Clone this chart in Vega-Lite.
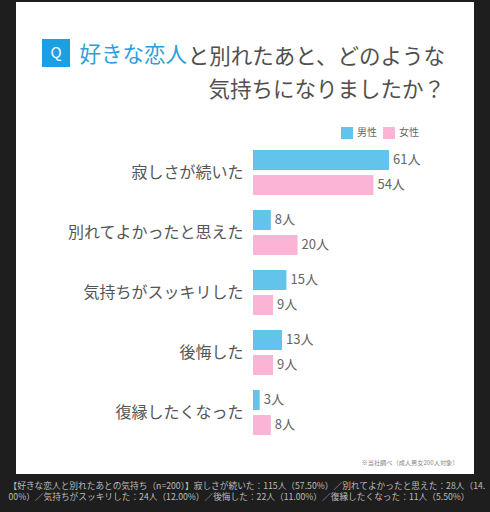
{
  "$schema": "https://vega.github.io/schema/vega-lite/v6.json",
  "width": 458,
  "height": 472,
  "autosize": "none",
  "padding": {"left": 16, "top": 2, "right": 16, "bottom": 38},
  "background": "#1e1e1e",
  "config": {
    "view": {"fill": "#ffffff", "stroke": null},
    "font": "Noto Sans CJK JP"
  },
  "title": {
    "text": ["と別れたあと、どのような", "気持ちになりましたか？"],
    "orient": "top",
    "anchor": "end",
    "frame": "group",
    "dx": -29,
    "offset": -99,
    "fontSize": 21.5,
    "fontWeight": "normal",
    "color": "#505050",
    "lineHeight": 33
  },
  "data": {
    "values": [
      {"category": "寂しさが続いた", "gender": "男性", "count": 61, "label": "61人"},
      {"category": "寂しさが続いた", "gender": "女性", "count": 54, "label": "54人"},
      {"category": "別れてよかったと思えた", "gender": "男性", "count": 8, "label": "8人"},
      {"category": "別れてよかったと思えた", "gender": "女性", "count": 20, "label": "20人"},
      {"category": "気持ちがスッキリした", "gender": "男性", "count": 15, "label": "15人"},
      {"category": "気持ちがスッキリした", "gender": "女性", "count": 9, "label": "9人"},
      {"category": "後悔した", "gender": "男性", "count": 13, "label": "13人"},
      {"category": "後悔した", "gender": "女性", "count": 9, "label": "9人"},
      {"category": "復縁したくなった", "gender": "男性", "count": 3, "label": "3人"},
      {"category": "復縁したくなった", "gender": "女性", "count": 8, "label": "8人"}
    ]
  },
  "encoding": {
    "y": {
      "field": "category",
      "type": "nominal",
      "sort": ["寂しさが続いた", "別れてよかったと思えた", "気持ちがスッキリした", "後悔した", "復縁したくなった"],
      "scale": {"range": [148, 433], "paddingInner": 0.25, "paddingOuter": 0},
      "axis": {
        "orient": "left",
        "offset": -237,
        "domain": false,
        "ticks": false,
        "grid": false,
        "labelPadding": 10,
        "labelFontSize": 16,
        "labelColor": "#555555",
        "labelLimit": 260,
        "title": [
          "【好きな恋人と別れたあとの気持ち（n=200）】寂しさが続いた：115人（57.50%）／別れてよかったと思えた：28人（14.",
          "00%）／気持ちがスッキリした：24人（12.00%）／後悔した：22人（11.00%）／復縁したくなった：11人（5.50%）"
        ],
        "titleAngle": 0,
        "titleAlign": "left",
        "titleBaseline": "top",
        "titleX": -245,
        "titleY": 479,
        "titleFontSize": 8.7,
        "titleFontWeight": "normal",
        "titleColor": "#bbbbbb",
        "titleLineHeight": 11.5,
        "titleLimit": 1000
      }
    },
    "yOffset": {
      "field": "gender",
      "sort": ["男性", "女性"],
      "scale": {"paddingInner": 0.2, "paddingOuter": 0}
    }
  },
  "resolve": {"axis": {"x": "independent"}},
  "layer": [
    {
      "mark": {"type": "bar"},
      "encoding": {
        "x": {
          "field": "count",
          "type": "quantitative",
          "scale": {"domain": [0, 80], "range": [237, 415.4], "nice": false},
          "axis": {
            "orient": "bottom",
            "domain": false,
            "ticks": false,
            "labels": false,
            "grid": false,
            "title": "※当社調べ（成人男女200人対象）",
            "titleAnchor": null,
            "titleAlign": "right",
            "titleBaseline": "middle",
            "titleX": 442,
            "titleY": -12,
            "titleFontSize": 6.2,
            "titleFontWeight": "normal",
            "titleColor": "#888888"
          }
        },
        "color": {
          "field": "gender",
          "type": "nominal",
          "scale": {"domain": ["男性", "女性"], "range": ["#62c3eb", "#fbb3d6"]},
          "legend": {
            "title": null,
            "orient": "none",
            "legendX": 325,
            "legendY": 125,
            "direction": "horizontal",
            "symbolType": "square",
            "symbolSize": 144,
            "symbolStrokeWidth": 0,
            "labelFontSize": 10,
            "labelColor": "#666666",
            "labelOffset": 4,
            "columnPadding": 6,
            "padding": 0
          }
        },
        "opacity": {
          "datum": "Q",
          "type": "ordinal",
          "scale": {"range": [1]},
          "legend": {
            "title": null,
            "orient": "none",
            "legendX": 26,
            "legendY": 37,
            "symbolType": "square",
            "symbolSize": 784,
            "symbolFillColor": "#1aa0e3",
            "symbolStrokeWidth": 0,
            "symbolOpacity": 1,
            "labelColor": "#ffffff",
            "labelFontSize": 15,
            "labelAlign": "center",
            "labelOffset": -14,
            "padding": 0
          }
        }
      }
    },
    {
      "mark": {"type": "text", "align": "left", "baseline": "middle", "dx": 4, "fontSize": 13, "color": "#666666"},
      "encoding": {
        "x": {
          "field": "count",
          "type": "quantitative",
          "axis": {
            "orient": "top",
            "domain": false,
            "ticks": false,
            "labels": false,
            "grid": false,
            "title": "好きな恋人",
            "titleAnchor": null,
            "titleAlign": "left",
            "titleBaseline": "middle",
            "titleX": 63,
            "titleY": 53,
            "titleFontSize": 21.5,
            "titleFontWeight": "normal",
            "titleColor": "#2ba0dc"
          }
        },
        "text": {"field": "label"}
      }
    }
  ]
}
